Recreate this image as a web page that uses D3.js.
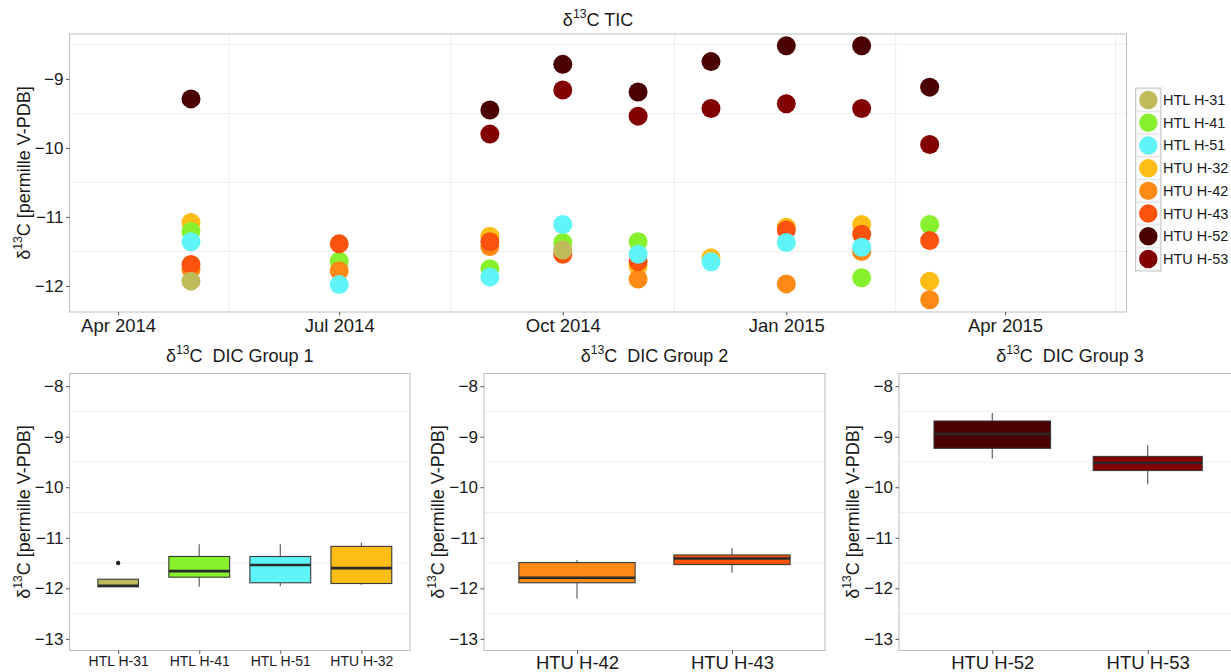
<!DOCTYPE html>
<html>
<head>
<meta charset="utf-8">
<script src="https://cdn.jsdelivr.net/npm/d3@7"></script>
<style>
  body { margin: 0; background: #fff; }
  svg { display: block; font-family: "Liberation Sans", Arial, sans-serif; }
</style>
</head>
<body>
<div id="board"></div>
<script>
// ---- data ----------------------------------------------------------------
const sampleDates = ["2014-05-01", "2014-07-01", "2014-09-01", "2014-10-01", "2014-11-01",
                     "2014-12-01", "2015-01-01", "2015-02-01", "2015-03-01"];

const seriesNames = ["HTL H-31", "HTL H-41", "HTL H-51", "HTU H-32",
                     "HTU H-42", "HTU H-43", "HTU H-52", "HTU H-53"];
const seriesColors = ["#bfbb5b", "#88f12e", "#5ff4f7", "#fdbd16",
                      "#fd8a14", "#fb520e", "#4a0000", "#820000"];

// TIC values per sample date (null = no visible point)
const h31 = [-11.93, null, null, -11.48, null, null, null, null, null];
const h41 = [-11.21, -11.64, -11.75, -11.37, -11.36, null, null, -11.88, -11.11];
const h51 = [-11.36, -11.98, -11.87, -11.11, -11.54, -11.65, -11.37, -11.44, null];
const h32 = [-11.08, null, -11.28, null, -11.71, -11.59, -11.15, -11.11, -11.93];
const h42 = [-11.76, -11.78, -11.43, null, -11.90, null, -11.97, -11.50, -12.20];
const h43 = [-11.69, -11.39, -11.36, -11.54, -11.65, null, -11.19, -11.25, -11.34];
const h52 = [-9.29, null, -9.45, -8.79, -9.19, -8.75, -8.52, -8.52, -9.12];
const h53 = [null, null, -9.80, -9.16, -9.54, -9.43, -9.36, -9.43, -9.95];
const seriesValues = [h31, h41, h51, h32, h42, h43, h52, h53];
// order the points are painted in
const drawOrder = ["HTU H-32", "HTL H-41", "HTU H-42", "HTU H-43", "HTL H-51", "HTL H-31", "HTU H-53", "HTU H-52"];

const topXTickDates = ["2014-04-01", "2014-07-01", "2014-10-01", "2015-01-01", "2015-04-01"];
const topXTickLabels = ["Apr 2014", "Jul 2014", "Oct 2014", "Jan 2015", "Apr 2015"];
const topXLimits = ["2014-03-12", "2015-05-21"];
const topYTicks = [-12, -11, -10, -9];
const topYLimits = [-12.377, -8.35];

// DIC box plots: whisker low, q1, median, q3, whisker high, sample count, outliers
const group1Labels = ["HTL H-31", "HTL H-41", "HTL H-51", "HTU H-32"];
const group1Low = [-11.97, -11.97, -11.96, -11.93];
const group1Q1 = [-11.97, -11.78, -11.89, -11.905];
const group1Median = [-11.95, -11.66, -11.54, -11.60];
const group1Q3 = [-11.82, -11.37, -11.37, -11.17];
const group1High = [-11.82, -11.13, -11.13, -11.10];
const group1N = [4, 9, 9, 9];
const group1Outliers = [[-11.50], [], [], []];

const group2Labels = ["HTU H-42", "HTU H-43"];
const group2Low = [-12.20, -11.69];
const group2Q1 = [-11.89, -11.53];
const group2Median = [-11.79, -11.41];
const group2Q3 = [-11.49, -11.34];
const group2High = [-11.44, -11.20];
const group2N = [9, 9];
const group2Outliers = [[], []];

const group3Labels = ["HTU H-52", "HTU H-53"];
const group3Low = [-9.43, -9.94];
const group3Q1 = [-9.23, -9.67];
const group3Median = [-8.95, -9.52];
const group3Q3 = [-8.69, -9.39];
const group3High = [-8.53, -9.17];
const group3N = [8, 7];
const group3Outliers = [[], []];

const boxYTicks = [-13, -12, -11, -10, -9, -8];
const boxYLimits = [-13.23, -7.75];

// ---- chart ---------------------------------------------------------------
document.getElementById('board').innerHTML = "";

const width = 1231;
const height = 672;
const gridColor = "#efefef";
const borderColor = "#bdbdbd";
const textColor = "#1a1a1a";
const colorOf = d3.scaleOrdinal().domain(seriesNames).range(seriesColors);
const parse = d3.utcParse("%Y-%m-%d");

const svg = d3.create("svg")
    .attr("width", width)
    .attr("height", height);

svg.append("rect").attr("width", width).attr("height", height).attr("fill", "#fff");

// text with a superscript "13" after the delta
function deltaText(g, rest, size) {
    const t = g.append("text")
        .attr("font-size", size)
        .attr("fill", textColor)
        .attr("xml:space", "preserve");
    t.append("tspan").text("\u03B4");
    t.append("tspan").attr("font-size", size * 0.68).attr("dy", -size * 0.42).text("13");
    t.append("tspan").attr("dy", size * 0.42).text("C" + rest);
    return t;
}

function styleAxis(g, fontSize) {
    g.select(".domain").remove();
    g.selectAll(".tick line").attr("stroke", "#555");
    g.selectAll(".tick text")
        .attr("fill", textColor)
        .attr("font-size", fontSize)
        .attr("font-family", "Liberation Sans, Arial, sans-serif");
}

// ---- top: TIC scatter ----
const tic = { left: 69.5, right: 1126.5, top: 34, bottom: 312 };

const x = d3.scaleUtc()
    .domain(topXLimits.map(parse))
    .range([tic.left, tic.right]);

const y = d3.scaleLinear()
    .domain(topYLimits)
    .range([tic.bottom, tic.top]);

const topG = svg.append("g");

// minor grid
const tickDates = topXTickDates.map(parse);
const minorX = [];
for (let i = 0; i < tickDates.length; i++) {
    const a = tickDates[i];
    const b = i + 1 < tickDates.length ? tickDates[i + 1] : d3.utcMonth.offset(a, 3);
    minorX.push(new Date((+a + +b) / 2));
}
const minorYTop = [-12.5, -11.5, -10.5, -9.5, -8.5].filter(v => v > topYLimits[0] && v < topYLimits[1]);

topG.append("g").selectAll("line")
    .data(minorYTop)
    .join("line")
    .attr("x1", tic.left).attr("x2", tic.right)
    .attr("y1", d => y(d)).attr("y2", d => y(d))
    .attr("stroke", gridColor);

topG.append("g").selectAll("line")
    .data(minorX.filter(d => x(d) < tic.right))
    .join("line")
    .attr("x1", d => x(d)).attr("x2", d => x(d))
    .attr("y1", tic.top).attr("y2", tic.bottom)
    .attr("stroke", gridColor);

// points
const points = [];
drawOrder.forEach(name => {
    const vals = seriesValues[seriesNames.indexOf(name)];
    vals.forEach((v, i) => {
        if (v !== null) points.push({ name: name, date: parse(sampleDates[i]), value: v });
    });
});

topG.append("g").selectAll("circle")
    .data(points)
    .join("circle")
    .attr("cx", d => x(d.date))
    .attr("cy", d => y(d.value))
    .attr("r", 9.5)
    .attr("fill", d => colorOf(d.name));

topG.append("rect")
    .attr("x", tic.left).attr("y", tic.top)
    .attr("width", tic.right - tic.left).attr("height", tic.bottom - tic.top)
    .attr("fill", "none").attr("stroke", borderColor);

// axes
topG.append("g")
    .attr("transform", `translate(${tic.left},0)`)
    .call(d3.axisLeft(y).tickValues(topYTicks).tickSize(3.5).tickPadding(2.5).tickFormat(d3.format("d")))
    .call(g => styleAxis(g, 17));

topG.append("g")
    .attr("transform", `translate(0,${tic.bottom})`)
    .call(d3.axisBottom(x).tickValues(tickDates).tickSize(3.5).tickPadding(3)
        .tickFormat((d, i) => topXTickLabels[i]))
    .call(g => styleAxis(g, 18.5));

deltaText(topG, " TIC", 18)
    .attr("x", (tic.left + tic.right) / 2).attr("y", 26)
    .attr("text-anchor", "middle");

deltaText(topG, " [permille V-PDB]", 18)
    .attr("text-anchor", "middle")
    .attr("transform", `translate(30,${(tic.top + tic.bottom) / 2}) rotate(-90)`);

// legend
const legend = topG.append("g");
const legendY = d3.scalePoint().domain(seriesNames).range([100, 259]);
legend.selectAll("rect.key")
    .data(seriesNames)
    .join("rect")
    .attr("class", "key")
    .attr("x", 1136).attr("y", d => legendY(d) - 11.3)
    .attr("width", 24.5).attr("height", 22.6)
    .attr("fill", "#fafafa").attr("stroke", "#e4e4e4");
legend.append("rect")
    .attr("x", 1135.5).attr("y", legendY(seriesNames[0]) - 12)
    .attr("width", 25.5).attr("height", legendY(seriesNames[7]) - legendY(seriesNames[0]) + 24)
    .attr("fill", "none").attr("stroke", "#c8c8c8");
legend.selectAll("circle")
    .data(seriesNames)
    .join("circle")
    .attr("cx", 1148.3).attr("cy", d => legendY(d))
    .attr("r", 9.2)
    .attr("fill", d => colorOf(d));
legend.selectAll("text")
    .data(seriesNames)
    .join("text")
    .attr("x", 1163).attr("y", d => legendY(d) + 5)
    .attr("font-size", 14.5)
    .attr("fill", textColor)
    .text(d => d);

// ---- bottom: DIC box plots ----
function boxPanel(opts) {
    const g = svg.append("g");
    const yb = d3.scaleLinear().domain(boxYLimits).range([650.5, 373.5]);
    const xb = d3.scalePoint().domain(opts.labels).range([opts.left, opts.right]).padding(0.6);
    const step = xb.step();
    const maxN = d3.max(opts.n);

    g.append("g").selectAll("line")
        .data([-12.5, -11.5, -10.5, -9.5, -8.5])
        .join("line")
        .attr("x1", opts.left).attr("x2", opts.right)
        .attr("y1", d => yb(d)).attr("y2", d => yb(d))
        .attr("stroke", gridColor);

    const boxes = opts.labels.map((name, i) => ({
        name: name,
        low: opts.low[i], q1: opts.q1[i], median: opts.median[i], q3: opts.q3[i], high: opts.high[i],
        half: 0.75 * step / 2 * Math.sqrt(opts.n[i] / maxN),
        outliers: opts.outliers[i]
    }));

    const b = g.append("g").selectAll("g")
        .data(boxes)
        .join("g");

    b.append("line")
        .attr("x1", d => xb(d.name)).attr("x2", d => xb(d.name))
        .attr("y1", d => yb(d.high)).attr("y2", d => yb(d.q3))
        .attr("stroke", "#555").attr("stroke-width", 1.1);
    b.append("line")
        .attr("x1", d => xb(d.name)).attr("x2", d => xb(d.name))
        .attr("y1", d => yb(d.q1)).attr("y2", d => yb(d.low))
        .attr("stroke", "#555").attr("stroke-width", 1.1);
    b.append("rect")
        .attr("x", d => xb(d.name) - d.half)
        .attr("width", d => 2 * d.half)
        .attr("y", d => yb(d.q3))
        .attr("height", d => Math.max(1, yb(d.q1) - yb(d.q3)))
        .attr("fill", d => colorOf(d.name))
        .attr("stroke", "#3a3a3a").attr("stroke-width", 1.1);
    b.append("line")
        .attr("x1", d => xb(d.name) - d.half).attr("x2", d => xb(d.name) + d.half)
        .attr("y1", d => yb(d.median)).attr("y2", d => yb(d.median))
        .attr("stroke", "#2a2a2a").attr("stroke-width", 2.6);
    b.selectAll("circle")
        .data(d => d.outliers.map(v => ({ name: d.name, value: v })))
        .join("circle")
        .attr("cx", d => xb(d.name)).attr("cy", d => yb(d.value))
        .attr("r", 2.2).attr("fill", "#222");

    g.append("rect")
        .attr("x", opts.left).attr("y", 373.5)
        .attr("width", opts.right - opts.left).attr("height", 277)
        .attr("fill", "none").attr("stroke", borderColor);

    g.append("g")
        .attr("transform", `translate(${opts.left},0)`)
        .call(d3.axisLeft(yb).tickValues(boxYTicks).tickSize(3.5).tickPadding(2.5).tickFormat(d3.format("d")))
        .call(a => styleAxis(a, 17));

    g.append("g")
        .attr("transform", "translate(0,650.5)")
        .call(d3.axisBottom(xb).tickSize(3.5).tickPadding(2))
        .call(a => styleAxis(a, opts.labelSize));

    deltaText(g, "  " + opts.title, 18)
        .attr("x", (opts.left + opts.right) / 2).attr("y", 362)
        .attr("text-anchor", "middle");

    deltaText(g, " [permille V-PDB]", 18)
        .attr("text-anchor", "middle")
        .attr("transform", `translate(${opts.titleX},${(373.5 + 650.5) / 2}) rotate(-90)`);
}

boxPanel({
    left: 69.5, right: 410, titleX: 30, labelSize: 14, title: "DIC Group 1",
    labels: group1Labels, low: group1Low, q1: group1Q1, median: group1Median,
    q3: group1Q3, high: group1High, n: group1N, outliers: group1Outliers
});
boxPanel({
    left: 484, right: 825, titleX: 444, labelSize: 18.5, title: "DIC Group 2",
    labels: group2Labels, low: group2Low, q1: group2Q1, median: group2Median,
    q3: group2Q3, high: group2High, n: group2N, outliers: group2Outliers
});
boxPanel({
    left: 899, right: 1241, titleX: 859, labelSize: 18.5, title: "DIC Group 3",
    labels: group3Labels, low: group3Low, q1: group3Q1, median: group3Median,
    q3: group3Q3, high: group3High, n: group3N, outliers: group3Outliers
});

document.getElementById('board').append(svg.node());
</script>
</body>
</html>
